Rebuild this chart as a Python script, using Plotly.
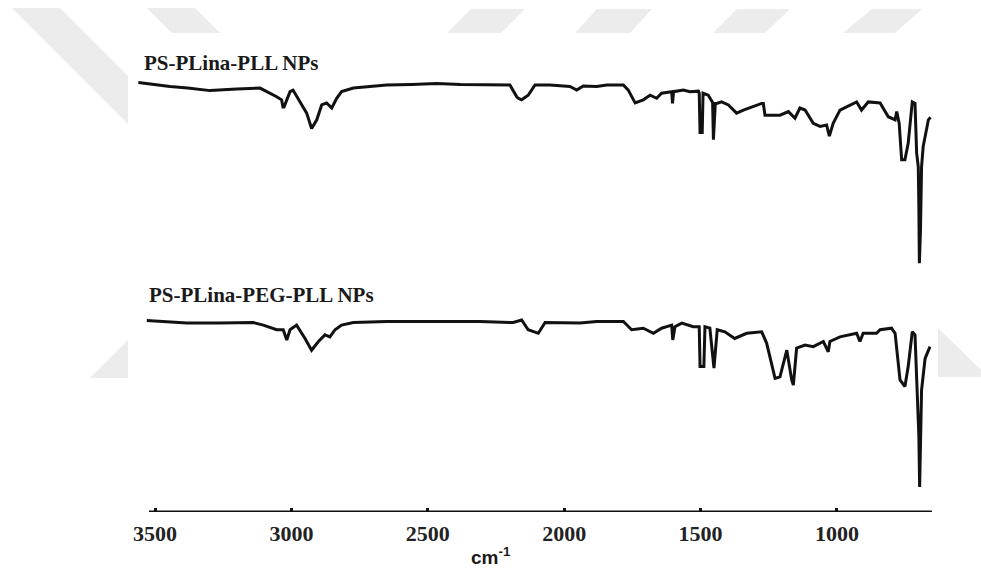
import plotly.graph_objects as go

# ---- data: FTIR spectra (wavenumber in cm^-1, transmittance in arbitrary units, offset) ----
pll_wn = [3561, 3445, 3380, 3298, 3200, 3115, 3054, 3036, 3031, 3027, 3005, 2994, 2944, 2926, 2907,
          2889, 2871, 2852, 2834, 2816, 2773, 2700, 2651, 2560, 2467, 2380, 2300, 2199, 2174, 2168, 2156, 2132,
          2107, 2052, 1979, 1954, 1930, 1881, 1844, 1783, 1765, 1740, 1710, 1685, 1661, 1643,
          1606, 1603, 1599, 1563, 1539, 1508, 1505, 1502, 1494, 1491, 1472, 1456, 1453, 1446,
          1441, 1423, 1398, 1368, 1343, 1294, 1276, 1270, 1264, 1209, 1178, 1154, 1136, 1117,
          1087, 1062, 1038, 1028, 1014, 989, 928, 910, 885, 842, 812, 787, 781, 772, 763, 751,
          739, 724, 714, 708, 702, 700, 698, 694, 690, 684, 665, 657]
pll_t = [83.9, 83.1, 82.8, 82.3, 82.6, 82.8, 81.1, 80.5, 79.1, 79.1, 82.1, 82.4, 77.9, 74.9, 76.6,
         79.5, 79.9, 78.9, 80.8, 82.1, 82.8, 83.1, 83.4, 83.5, 83.7, 83.5, 83.4, 83.4, 81.1, 80.8, 80.5, 81.4,
         83.4, 83.4, 83.1, 82.4, 83.2, 83.1, 83.4, 83.4, 82.4, 79.9, 80.5, 81.4, 80.8, 81.8,
         82.1, 79.8, 82.1, 82.4, 82.1, 82.2, 81.8, 74.1, 74.1, 81.8, 81.4, 80.0, 72.7, 79.8,
         79.8, 80.1, 79.5, 77.9, 78.5, 79.5, 79.8, 79.8, 77.5, 77.5, 78.2, 76.9, 78.9, 78.5,
         75.9, 75.3, 75.6, 73.4, 75.9, 78.5, 80.1, 78.5, 80.1, 79.9, 77.2, 76.6, 78.2, 75.9,
         68.8, 68.8, 72.0, 80.1, 79.8, 70.1, 67.4, 60.0, 48.6, 55.0, 67.4, 71.4, 76.6, 77.1]

peg_wn = [3530, 3384, 3262, 3140, 3103, 3054, 3030, 3017, 3005, 2981, 2950, 2926, 2901, 2877,
          2859, 2840, 2816, 2773, 2651, 2407, 2309, 2187, 2156, 2132, 2095, 2070, 1942, 1881,
          1783, 1753, 1710, 1673, 1643, 1606, 1602, 1594, 1569, 1527, 1505, 1502, 1488, 1484,
          1466, 1451, 1439, 1411, 1375, 1331, 1276, 1258, 1227, 1209, 1184, 1166, 1160, 1148,
          1117, 1087, 1050, 1032, 1026, 989, 928, 916, 904, 855, 842, 800, 787, 769, 751, 739,
          724, 714, 706, 700, 697, 694, 690, 677, 659]
peg_t = [37.4, 36.9, 36.9, 37.0, 36.5, 35.6, 35.6, 33.6, 35.6, 36.5, 33.9, 31.6, 33.3, 34.6,
         34.2, 35.6, 36.5, 37.0, 37.2, 37.2, 37.2, 37.0, 37.5, 35.6, 34.9, 37.0, 36.9, 37.2,
         37.2, 35.6, 35.9, 34.9, 35.9, 36.5, 33.6, 36.2, 36.9, 36.2, 36.2, 28.4, 28.4, 36.2,
         35.9, 28.1, 35.6, 35.2, 33.9, 34.9, 35.2, 33.0, 26.1, 26.4, 31.6, 25.8, 24.8, 32.0,
         32.6, 32.3, 33.3, 31.3, 33.3, 34.2, 34.9, 33.3, 34.9, 34.9, 35.6, 35.9, 34.9, 25.8,
         24.5, 28.4, 35.2, 34.6, 22.5, 15.0, 4.9, 12.0, 23.8, 30.0, 32.3]

tick_vals = [3500, 3000, 2500, 2000, 1500, 1000]
tick_text = ["3500", "3000", "2500", "2000", "1500", "1000"]
axis_span = [3522, 652]
labels = ["PS-PLina-PLL NPs", "PS-PLina-PEG-PLL NPs"]

fig = go.Figure()
for wn, t in [(pll_wn, pll_t), (peg_wn, peg_t)]:
    fig.add_trace(go.Scatter(x=wn, y=t, mode="lines",
                             line=dict(color="#111111", width=3),
                             showlegend=False, hoverinfo="skip"))

# watermark shapes (paper coords)
wm = "#ececec"
polys = [
    [(0.01223, 0.98438), (0.06116, 0.98438), (0.13048, 0.85156), (0.13048, 0.75781)],
    [(0.14985, 0.98438), (0.19878, 0.98438), (0.22426, 0.93555), (0.17533, 0.93555)],
    [(0.45566, 0.93555), (0.51070, 0.93555), (0.53517, 0.98242), (0.48012, 0.98242)],
    [(0.58614, 0.93555), (0.64220, 0.93555), (0.66463, 0.98242), (0.60856, 0.98242)],
    [(0.72681, 0.93555), (0.77982, 0.93555), (0.80530, 0.98242), (0.75127, 0.98242)],
    [(0.85933, 0.93555), (0.91233, 0.93555), (0.93986, 0.98242), (0.88889, 0.98242)],
    [(0.13048, 0.33594), (0.09174, 0.26172), (0.13048, 0.26172)],
    [(0.95617, 0.35938), (1.0, 0.27734), (1.0, 0.26367), (0.95617, 0.26367)],
]
shapes = []
for p in polys:
    path = "M " + " L ".join(f"{x},{y}" for x, y in p) + " Z"
    shapes.append(dict(type="path", path=path, xref="paper", yref="paper",
                       fillcolor=wm, line=dict(width=0), layer="below"))
# x axis line
shapes.append(dict(type="line", xref="x", yref="y", x0=axis_span[0], x1=axis_span[1],
                   y0=0, y1=0, line=dict(color="#111111", width=3)))

serif = "Liberation Serif, Times New Roman, serif"
annotations = [
    dict(text=f"<b>{labels[0]}</b>", x=0.1444, y=0.877, xref="paper", yref="paper",
         xanchor="left", yanchor="middle", showarrow=False,
         font=dict(family=serif, size=21, color="#1a1a1a")),
    dict(text=f"<b>{labels[1]}</b>", x=0.1495, y=0.4248, xref="paper", yref="paper",
         xanchor="left", yanchor="middle", showarrow=False,
         font=dict(family=serif, size=21, color="#1a1a1a")),
    dict(text="<b>cm<sup>-1</sup></b>", x=491 / 981, y=-0.085, xref="paper", yref="paper",
         xanchor="center", yanchor="middle", showarrow=False,
         font=dict(family="Liberation Sans, Arial, sans-serif", size=19, color="#1a1a1a")),
]

fig.update_layout(
    width=981, height=569,
    margin=dict(l=0, r=0, t=0, b=57),
    paper_bgcolor="white", plot_bgcolor="white",
    shapes=shapes, annotations=annotations,
    xaxis=dict(range=[4068.2, 472.1], tickvals=tick_vals,
               ticktext=[f"<b>{t}</b>" for t in tick_text],
               ticks="inside", ticklen=4, tickwidth=3, tickcolor="#111111",
               showgrid=False, zeroline=False, showline=False,
               ticklabelstandoff=6,
               tickfont=dict(family=serif, size=22, color="#222222")),
    yaxis=dict(range=[0, 100], visible=False, showgrid=False, zeroline=False),
)

fig.write_html("out.html")
